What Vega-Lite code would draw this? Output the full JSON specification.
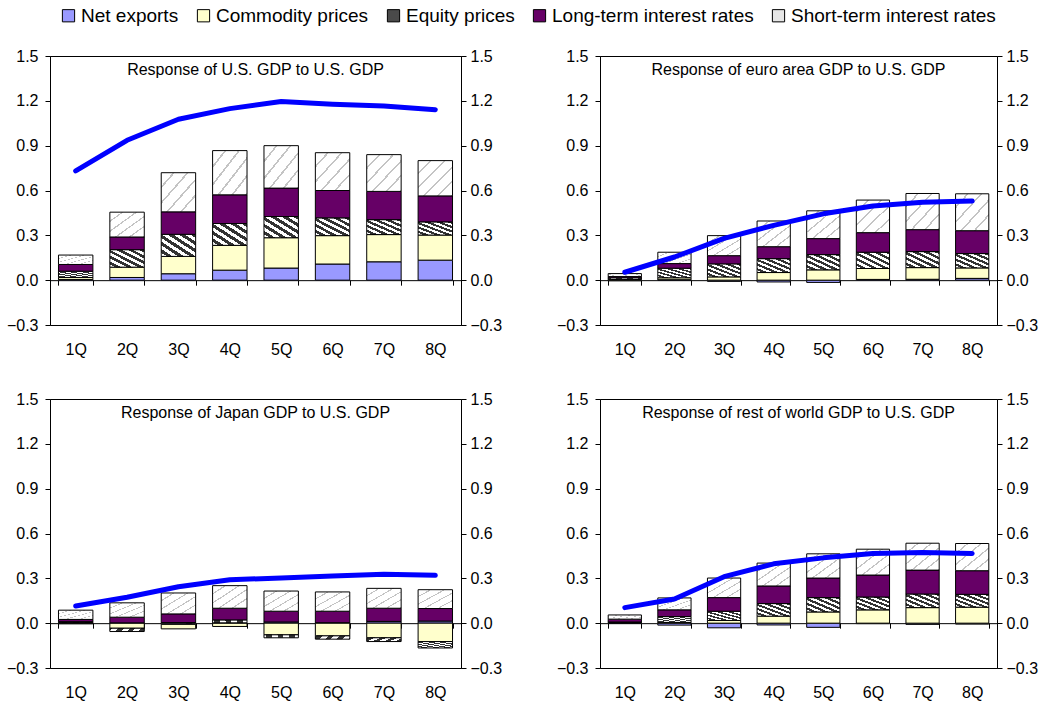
{
  "$schema": "https://vega.github.io/schema/vega-lite/v6.json",
  "padding": {"left": 5, "top": 6, "right": 8, "bottom": 6},
  "background": "white",
  "datasets": {
    "stackOrder": [
      {"component": "Net exports", "rank": 1},
      {"component": "Commodity prices", "rank": 2},
      {"component": "Equity prices", "rank": 3},
      {"component": "Long-term interest rates", "rank": 4},
      {"component": "Short-term interest rates", "rank": 5}
    ],
    "resp": [
      {"region": "us", "q": "1Q", "gdp": 0.731, "Net exports": 0.005, "Commodity prices": 0.013, "Equity prices": 0.042, "Long-term interest rates": 0.045, "Short-term interest rates": 0.063},
      {"region": "us", "q": "2Q", "gdp": 0.936, "Net exports": 0.018, "Commodity prices": 0.069, "Equity prices": 0.117, "Long-term interest rates": 0.085, "Short-term interest rates": 0.166},
      {"region": "us", "q": "3Q", "gdp": 1.077, "Net exports": 0.043, "Commodity prices": 0.116, "Equity prices": 0.148, "Long-term interest rates": 0.150, "Short-term interest rates": 0.262},
      {"region": "us", "q": "4Q", "gdp": 1.148, "Net exports": 0.067, "Commodity prices": 0.166, "Equity prices": 0.146, "Long-term interest rates": 0.192, "Short-term interest rates": 0.296},
      {"region": "us", "q": "5Q", "gdp": 1.195, "Net exports": 0.081, "Commodity prices": 0.203, "Equity prices": 0.142, "Long-term interest rates": 0.190, "Short-term interest rates": 0.284},
      {"region": "us", "q": "6Q", "gdp": 1.177, "Net exports": 0.108, "Commodity prices": 0.190, "Equity prices": 0.119, "Long-term interest rates": 0.183, "Short-term interest rates": 0.253},
      {"region": "us", "q": "7Q", "gdp": 1.166, "Net exports": 0.123, "Commodity prices": 0.182, "Equity prices": 0.100, "Long-term interest rates": 0.189, "Short-term interest rates": 0.246},
      {"region": "us", "q": "8Q", "gdp": 1.141, "Net exports": 0.134, "Commodity prices": 0.168, "Equity prices": 0.088, "Long-term interest rates": 0.174, "Short-term interest rates": 0.236},
      {"region": "ea", "q": "1Q", "gdp": 0.053, "Net exports": -0.004, "Commodity prices": 0.004, "Equity prices": 0.012, "Long-term interest rates": 0.008, "Short-term interest rates": 0.020},
      {"region": "ea", "q": "2Q", "gdp": 0.155, "Net exports": 0.003, "Commodity prices": 0.013, "Equity prices": 0.064, "Long-term interest rates": 0.031, "Short-term interest rates": 0.076},
      {"region": "ea", "q": "3Q", "gdp": 0.280, "Net exports": -0.008, "Commodity prices": 0.022, "Equity prices": 0.087, "Long-term interest rates": 0.055, "Short-term interest rates": 0.134},
      {"region": "ea", "q": "4Q", "gdp": 0.367, "Net exports": -0.012, "Commodity prices": 0.051, "Equity prices": 0.093, "Long-term interest rates": 0.080, "Short-term interest rates": 0.172},
      {"region": "ea", "q": "5Q", "gdp": 0.444, "Net exports": -0.015, "Commodity prices": 0.069, "Equity prices": 0.102, "Long-term interest rates": 0.107, "Short-term interest rates": 0.186},
      {"region": "ea", "q": "6Q", "gdp": 0.496, "Net exports": 0.005, "Commodity prices": 0.073, "Equity prices": 0.109, "Long-term interest rates": 0.131, "Short-term interest rates": 0.218},
      {"region": "ea", "q": "7Q", "gdp": 0.522, "Net exports": 0.006, "Commodity prices": 0.078, "Equity prices": 0.107, "Long-term interest rates": 0.147, "Short-term interest rates": 0.242},
      {"region": "ea", "q": "8Q", "gdp": 0.529, "Net exports": 0.012, "Commodity prices": 0.070, "Equity prices": 0.096, "Long-term interest rates": 0.153, "Short-term interest rates": 0.247},
      {"region": "jp", "q": "1Q", "gdp": 0.115, "Net exports": 0.004, "Commodity prices": -0.004, "Equity prices": 0.006, "Long-term interest rates": 0.015, "Short-term interest rates": 0.062},
      {"region": "jp", "q": "2Q", "gdp": 0.173, "Net exports": 0.002, "Commodity prices": -0.034, "Equity prices": -0.022, "Long-term interest rates": 0.038, "Short-term interest rates": 0.096},
      {"region": "jp", "q": "3Q", "gdp": 0.244, "Net exports": -0.008, "Commodity prices": -0.030, "Equity prices": 0.004, "Long-term interest rates": 0.058, "Short-term interest rates": 0.140},
      {"region": "jp", "q": "4Q", "gdp": 0.291, "Net exports": 0.002, "Commodity prices": -0.022, "Equity prices": 0.020, "Long-term interest rates": 0.078, "Short-term interest rates": 0.151},
      {"region": "jp", "q": "5Q", "gdp": 0.302, "Net exports": 0.008, "Commodity prices": -0.078, "Equity prices": -0.020, "Long-term interest rates": 0.072, "Short-term interest rates": 0.135},
      {"region": "jp", "q": "6Q", "gdp": 0.315, "Net exports": 0.003, "Commodity prices": -0.085, "Equity prices": -0.022, "Long-term interest rates": 0.077, "Short-term interest rates": 0.129},
      {"region": "jp", "q": "7Q", "gdp": 0.328, "Net exports": 0.012, "Commodity prices": -0.098, "Equity prices": -0.025, "Long-term interest rates": 0.088, "Short-term interest rates": 0.133},
      {"region": "jp", "q": "8Q", "gdp": 0.320, "Net exports": 0.014, "Commodity prices": -0.123, "Equity prices": -0.043, "Long-term interest rates": 0.084, "Short-term interest rates": 0.126},
      {"region": "row", "q": "1Q", "gdp": 0.104, "Net exports": 0.002, "Commodity prices": 0.002, "Equity prices": 0.004, "Long-term interest rates": 0.019, "Short-term interest rates": 0.028},
      {"region": "row", "q": "2Q", "gdp": 0.162, "Net exports": -0.013, "Commodity prices": 0.005, "Equity prices": 0.039, "Long-term interest rates": 0.045, "Short-term interest rates": 0.080},
      {"region": "row", "q": "3Q", "gdp": 0.311, "Net exports": -0.031, "Commodity prices": 0.018, "Equity prices": 0.062, "Long-term interest rates": 0.091, "Short-term interest rates": 0.131},
      {"region": "row", "q": "4Q", "gdp": 0.397, "Net exports": -0.012, "Commodity prices": 0.047, "Equity prices": 0.084, "Long-term interest rates": 0.118, "Short-term interest rates": 0.153},
      {"region": "row", "q": "5Q", "gdp": 0.437, "Net exports": -0.028, "Commodity prices": 0.075, "Equity prices": 0.096, "Long-term interest rates": 0.131, "Short-term interest rates": 0.162},
      {"region": "row", "q": "6Q", "gdp": 0.466, "Net exports": -0.003, "Commodity prices": 0.089, "Equity prices": 0.086, "Long-term interest rates": 0.147, "Short-term interest rates": 0.173},
      {"region": "row", "q": "7Q", "gdp": 0.473, "Net exports": -0.008, "Commodity prices": 0.104, "Equity prices": 0.091, "Long-term interest rates": 0.160, "Short-term interest rates": 0.180},
      {"region": "row", "q": "8Q", "gdp": 0.466, "Net exports": -0.006, "Commodity prices": 0.107, "Equity prices": 0.086, "Long-term interest rates": 0.158, "Short-term interest rates": 0.182}
    ]
  },
  "vconcat": [
    {
      "hconcat": [
        {
          "width": 411, "height": 269,
          "title": {"text": "Response of U.S. GDP to U.S. GDP"},
          "data": {"name": "resp"},
          "transform": [{"filter": "datum.region === 'us'"}],
          "layer": [
            {
              "mark": {"type": "bar", "stroke": "black", "strokeWidth": 1},
              "transform": [
                {"fold": ["Net exports", "Commodity prices", "Equity prices", "Long-term interest rates", "Short-term interest rates"], "as": ["component", "value"]},
                {"lookup": "component", "from": {"data": {"name": "stackOrder"}, "key": "component", "fields": ["rank"]}}
              ],
              "encoding": {
                "x": {"field": "q", "type": "ordinal", "scale": {"paddingInner": 0.33, "paddingOuter": 0.165}, "axis": {"title": null, "orient": "bottom", "labels": false, "tickBand": "extent", "offset": -44.83, "tickSize": 5, "domainColor": "black", "tickColor": "black"}},
                "y": {"field": "value", "type": "quantitative", "stack": "zero", "scale": {"domain": [-0.3, 1.5], "nice": false, "zero": false}, "axis": {"orient": "left", "values": [-0.3, 0, 0.3, 0.6, 0.9, 1.2, 1.5], "format": ".1f", "title": null, "labelPadding": 7}},
                "order": {"field": "rank", "type": "quantitative", "sort": "ascending"},
                "color": {
                  "field": "component", "type": "nominal",
                  "scale": {"domain": ["Net exports", "Commodity prices", "Equity prices", "Long-term interest rates", "Short-term interest rates"], "range": ["#9999ff", "#ffffcc", "#4a4a4a", "#660066", "#e6e6e6"]},
                  "condition": [
                    {"test": "datum.component === 'Equity prices'", "value": {"gradient": "linear", "x1": 0, "y1": 1, "x2": 1, "y2": 0, "stops": [{"offset": 0, "color": "#ffffff"}, {"offset": 0.0833, "color": "#ffffff"}, {"offset": 0.0833, "color": "#333333"}, {"offset": 0.1667, "color": "#333333"}, {"offset": 0.1667, "color": "#ffffff"}, {"offset": 0.25, "color": "#ffffff"}, {"offset": 0.25, "color": "#333333"}, {"offset": 0.3333, "color": "#333333"}, {"offset": 0.3333, "color": "#ffffff"}, {"offset": 0.4167, "color": "#ffffff"}, {"offset": 0.4167, "color": "#333333"}, {"offset": 0.5, "color": "#333333"}, {"offset": 0.5, "color": "#ffffff"}, {"offset": 0.5833, "color": "#ffffff"}, {"offset": 0.5833, "color": "#333333"}, {"offset": 0.6667, "color": "#333333"}, {"offset": 0.6667, "color": "#ffffff"}, {"offset": 0.75, "color": "#ffffff"}, {"offset": 0.75, "color": "#333333"}, {"offset": 0.8333, "color": "#333333"}, {"offset": 0.8333, "color": "#ffffff"}, {"offset": 0.9167, "color": "#ffffff"}, {"offset": 0.9167, "color": "#333333"}, {"offset": 1, "color": "#333333"}]}},
                    {"test": "datum.component === 'Short-term interest rates'", "value": {"gradient": "linear", "x1": 0, "y1": 0, "x2": 1, "y2": 1, "stops": [{"offset": 0, "color": "#ffffff"}, {"offset": 0.17, "color": "#ffffff"}, {"offset": 0.17, "color": "#c4c4c4"}, {"offset": 0.2, "color": "#c4c4c4"}, {"offset": 0.2, "color": "#ffffff"}, {"offset": 0.37, "color": "#ffffff"}, {"offset": 0.37, "color": "#c4c4c4"}, {"offset": 0.4, "color": "#c4c4c4"}, {"offset": 0.4, "color": "#ffffff"}, {"offset": 0.57, "color": "#ffffff"}, {"offset": 0.57, "color": "#c4c4c4"}, {"offset": 0.6, "color": "#c4c4c4"}, {"offset": 0.6, "color": "#ffffff"}, {"offset": 0.77, "color": "#ffffff"}, {"offset": 0.77, "color": "#c4c4c4"}, {"offset": 0.8, "color": "#c4c4c4"}, {"offset": 0.8, "color": "#ffffff"}, {"offset": 0.97, "color": "#ffffff"}, {"offset": 0.97, "color": "#c4c4c4"}, {"offset": 1, "color": "#c4c4c4"}]}}
                  ],
                  "legend": {"title": null}
                }
              }
            },
            {
              "mark": {"type": "line", "color": "#0000ff", "strokeWidth": 5, "strokeCap": "round", "strokeJoin": "round"},
              "encoding": {
                "x": {"field": "q", "type": "ordinal", "scale": {"type": "point", "padding": 0.5}, "axis": {"title": null, "orient": "bottom", "labelAngle": 0, "domain": false, "ticks": false, "labelPadding": 16}},
                "y": {"field": "gdp", "type": "quantitative", "scale": {"domain": [-0.3, 1.5], "nice": false, "zero": false}, "axis": {"orient": "right", "values": [-0.3, 0, 0.3, 0.6, 0.9, 1.2, 1.5], "format": ".1f", "title": null}}
              }
            }
          ],
          "resolve": {"scale": {"x": "independent", "y": "independent"}}
        },
        {
          "width": 397, "height": 269,
          "title": {"text": "Response of euro area GDP to U.S. GDP"},
          "data": {"name": "resp"},
          "transform": [{"filter": "datum.region === 'ea'"}],
          "layer": [
            {
              "mark": {"type": "bar", "stroke": "black", "strokeWidth": 1},
              "transform": [
                {"fold": ["Net exports", "Commodity prices", "Equity prices", "Long-term interest rates", "Short-term interest rates"], "as": ["component", "value"]},
                {"lookup": "component", "from": {"data": {"name": "stackOrder"}, "key": "component", "fields": ["rank"]}}
              ],
              "encoding": {
                "x": {"field": "q", "type": "ordinal", "scale": {"paddingInner": 0.33, "paddingOuter": 0.165}, "axis": {"title": null, "orient": "bottom", "labels": false, "tickBand": "extent", "offset": -44.83, "tickSize": 5, "domainColor": "black", "tickColor": "black"}},
                "y": {"field": "value", "type": "quantitative", "stack": "zero", "scale": {"domain": [-0.3, 1.5], "nice": false, "zero": false}, "axis": {"orient": "left", "values": [-0.3, 0, 0.3, 0.6, 0.9, 1.2, 1.5], "format": ".1f", "title": null, "labelPadding": 7}},
                "order": {"field": "rank", "type": "quantitative", "sort": "ascending"},
                "color": {
                  "field": "component", "type": "nominal",
                  "scale": {"domain": ["Net exports", "Commodity prices", "Equity prices", "Long-term interest rates", "Short-term interest rates"], "range": ["#9999ff", "#ffffcc", "#4a4a4a", "#660066", "#e6e6e6"]},
                  "condition": [
                    {"test": "datum.component === 'Equity prices'", "value": {"gradient": "linear", "x1": 0, "y1": 1, "x2": 1, "y2": 0, "stops": [{"offset": 0, "color": "#ffffff"}, {"offset": 0.0833, "color": "#ffffff"}, {"offset": 0.0833, "color": "#333333"}, {"offset": 0.1667, "color": "#333333"}, {"offset": 0.1667, "color": "#ffffff"}, {"offset": 0.25, "color": "#ffffff"}, {"offset": 0.25, "color": "#333333"}, {"offset": 0.3333, "color": "#333333"}, {"offset": 0.3333, "color": "#ffffff"}, {"offset": 0.4167, "color": "#ffffff"}, {"offset": 0.4167, "color": "#333333"}, {"offset": 0.5, "color": "#333333"}, {"offset": 0.5, "color": "#ffffff"}, {"offset": 0.5833, "color": "#ffffff"}, {"offset": 0.5833, "color": "#333333"}, {"offset": 0.6667, "color": "#333333"}, {"offset": 0.6667, "color": "#ffffff"}, {"offset": 0.75, "color": "#ffffff"}, {"offset": 0.75, "color": "#333333"}, {"offset": 0.8333, "color": "#333333"}, {"offset": 0.8333, "color": "#ffffff"}, {"offset": 0.9167, "color": "#ffffff"}, {"offset": 0.9167, "color": "#333333"}, {"offset": 1, "color": "#333333"}]}},
                    {"test": "datum.component === 'Short-term interest rates'", "value": {"gradient": "linear", "x1": 0, "y1": 0, "x2": 1, "y2": 1, "stops": [{"offset": 0, "color": "#ffffff"}, {"offset": 0.17, "color": "#ffffff"}, {"offset": 0.17, "color": "#c4c4c4"}, {"offset": 0.2, "color": "#c4c4c4"}, {"offset": 0.2, "color": "#ffffff"}, {"offset": 0.37, "color": "#ffffff"}, {"offset": 0.37, "color": "#c4c4c4"}, {"offset": 0.4, "color": "#c4c4c4"}, {"offset": 0.4, "color": "#ffffff"}, {"offset": 0.57, "color": "#ffffff"}, {"offset": 0.57, "color": "#c4c4c4"}, {"offset": 0.6, "color": "#c4c4c4"}, {"offset": 0.6, "color": "#ffffff"}, {"offset": 0.77, "color": "#ffffff"}, {"offset": 0.77, "color": "#c4c4c4"}, {"offset": 0.8, "color": "#c4c4c4"}, {"offset": 0.8, "color": "#ffffff"}, {"offset": 0.97, "color": "#ffffff"}, {"offset": 0.97, "color": "#c4c4c4"}, {"offset": 1, "color": "#c4c4c4"}]}}
                  ],
                  "legend": {"title": null}
                }
              }
            },
            {
              "mark": {"type": "line", "color": "#0000ff", "strokeWidth": 5, "strokeCap": "round", "strokeJoin": "round"},
              "encoding": {
                "x": {"field": "q", "type": "ordinal", "scale": {"type": "point", "padding": 0.5}, "axis": {"title": null, "orient": "bottom", "labelAngle": 0, "domain": false, "ticks": false, "labelPadding": 16}},
                "y": {"field": "gdp", "type": "quantitative", "scale": {"domain": [-0.3, 1.5], "nice": false, "zero": false}, "axis": {"orient": "right", "values": [-0.3, 0, 0.3, 0.6, 0.9, 1.2, 1.5], "format": ".1f", "title": null}}
              }
            }
          ],
          "resolve": {"scale": {"x": "independent", "y": "independent"}}
        }
      ],
      "spacing": 139,
      "bounds": "flush"
    },
    {
      "hconcat": [
        {
          "width": 411, "height": 269,
          "title": {"text": "Response of Japan GDP to U.S. GDP"},
          "data": {"name": "resp"},
          "transform": [{"filter": "datum.region === 'jp'"}],
          "layer": [
            {
              "mark": {"type": "bar", "stroke": "black", "strokeWidth": 1},
              "transform": [
                {"fold": ["Net exports", "Commodity prices", "Equity prices", "Long-term interest rates", "Short-term interest rates"], "as": ["component", "value"]},
                {"lookup": "component", "from": {"data": {"name": "stackOrder"}, "key": "component", "fields": ["rank"]}}
              ],
              "encoding": {
                "x": {"field": "q", "type": "ordinal", "scale": {"paddingInner": 0.33, "paddingOuter": 0.165}, "axis": {"title": null, "orient": "bottom", "labels": false, "tickBand": "extent", "offset": -44.83, "tickSize": 5, "domainColor": "black", "tickColor": "black"}},
                "y": {"field": "value", "type": "quantitative", "stack": "zero", "scale": {"domain": [-0.3, 1.5], "nice": false, "zero": false}, "axis": {"orient": "left", "values": [-0.3, 0, 0.3, 0.6, 0.9, 1.2, 1.5], "format": ".1f", "title": null, "labelPadding": 7}},
                "order": {"field": "rank", "type": "quantitative", "sort": "ascending"},
                "color": {
                  "field": "component", "type": "nominal",
                  "scale": {"domain": ["Net exports", "Commodity prices", "Equity prices", "Long-term interest rates", "Short-term interest rates"], "range": ["#9999ff", "#ffffcc", "#4a4a4a", "#660066", "#e6e6e6"]},
                  "condition": [
                    {"test": "datum.component === 'Equity prices'", "value": {"gradient": "linear", "x1": 0, "y1": 1, "x2": 1, "y2": 0, "stops": [{"offset": 0, "color": "#ffffff"}, {"offset": 0.0833, "color": "#ffffff"}, {"offset": 0.0833, "color": "#333333"}, {"offset": 0.1667, "color": "#333333"}, {"offset": 0.1667, "color": "#ffffff"}, {"offset": 0.25, "color": "#ffffff"}, {"offset": 0.25, "color": "#333333"}, {"offset": 0.3333, "color": "#333333"}, {"offset": 0.3333, "color": "#ffffff"}, {"offset": 0.4167, "color": "#ffffff"}, {"offset": 0.4167, "color": "#333333"}, {"offset": 0.5, "color": "#333333"}, {"offset": 0.5, "color": "#ffffff"}, {"offset": 0.5833, "color": "#ffffff"}, {"offset": 0.5833, "color": "#333333"}, {"offset": 0.6667, "color": "#333333"}, {"offset": 0.6667, "color": "#ffffff"}, {"offset": 0.75, "color": "#ffffff"}, {"offset": 0.75, "color": "#333333"}, {"offset": 0.8333, "color": "#333333"}, {"offset": 0.8333, "color": "#ffffff"}, {"offset": 0.9167, "color": "#ffffff"}, {"offset": 0.9167, "color": "#333333"}, {"offset": 1, "color": "#333333"}]}},
                    {"test": "datum.component === 'Short-term interest rates'", "value": {"gradient": "linear", "x1": 0, "y1": 0, "x2": 1, "y2": 1, "stops": [{"offset": 0, "color": "#ffffff"}, {"offset": 0.17, "color": "#ffffff"}, {"offset": 0.17, "color": "#c4c4c4"}, {"offset": 0.2, "color": "#c4c4c4"}, {"offset": 0.2, "color": "#ffffff"}, {"offset": 0.37, "color": "#ffffff"}, {"offset": 0.37, "color": "#c4c4c4"}, {"offset": 0.4, "color": "#c4c4c4"}, {"offset": 0.4, "color": "#ffffff"}, {"offset": 0.57, "color": "#ffffff"}, {"offset": 0.57, "color": "#c4c4c4"}, {"offset": 0.6, "color": "#c4c4c4"}, {"offset": 0.6, "color": "#ffffff"}, {"offset": 0.77, "color": "#ffffff"}, {"offset": 0.77, "color": "#c4c4c4"}, {"offset": 0.8, "color": "#c4c4c4"}, {"offset": 0.8, "color": "#ffffff"}, {"offset": 0.97, "color": "#ffffff"}, {"offset": 0.97, "color": "#c4c4c4"}, {"offset": 1, "color": "#c4c4c4"}]}}
                  ],
                  "legend": {"title": null}
                }
              }
            },
            {
              "mark": {"type": "line", "color": "#0000ff", "strokeWidth": 5, "strokeCap": "round", "strokeJoin": "round"},
              "encoding": {
                "x": {"field": "q", "type": "ordinal", "scale": {"type": "point", "padding": 0.5}, "axis": {"title": null, "orient": "bottom", "labelAngle": 0, "domain": false, "ticks": false, "labelPadding": 16}},
                "y": {"field": "gdp", "type": "quantitative", "scale": {"domain": [-0.3, 1.5], "nice": false, "zero": false}, "axis": {"orient": "right", "values": [-0.3, 0, 0.3, 0.6, 0.9, 1.2, 1.5], "format": ".1f", "title": null}}
              }
            }
          ],
          "resolve": {"scale": {"x": "independent", "y": "independent"}}
        },
        {
          "width": 397, "height": 269,
          "title": {"text": "Response of rest of world GDP to U.S. GDP"},
          "data": {"name": "resp"},
          "transform": [{"filter": "datum.region === 'row'"}],
          "layer": [
            {
              "mark": {"type": "bar", "stroke": "black", "strokeWidth": 1},
              "transform": [
                {"fold": ["Net exports", "Commodity prices", "Equity prices", "Long-term interest rates", "Short-term interest rates"], "as": ["component", "value"]},
                {"lookup": "component", "from": {"data": {"name": "stackOrder"}, "key": "component", "fields": ["rank"]}}
              ],
              "encoding": {
                "x": {"field": "q", "type": "ordinal", "scale": {"paddingInner": 0.33, "paddingOuter": 0.165}, "axis": {"title": null, "orient": "bottom", "labels": false, "tickBand": "extent", "offset": -44.83, "tickSize": 5, "domainColor": "black", "tickColor": "black"}},
                "y": {"field": "value", "type": "quantitative", "stack": "zero", "scale": {"domain": [-0.3, 1.5], "nice": false, "zero": false}, "axis": {"orient": "left", "values": [-0.3, 0, 0.3, 0.6, 0.9, 1.2, 1.5], "format": ".1f", "title": null, "labelPadding": 7}},
                "order": {"field": "rank", "type": "quantitative", "sort": "ascending"},
                "color": {
                  "field": "component", "type": "nominal",
                  "scale": {"domain": ["Net exports", "Commodity prices", "Equity prices", "Long-term interest rates", "Short-term interest rates"], "range": ["#9999ff", "#ffffcc", "#4a4a4a", "#660066", "#e6e6e6"]},
                  "condition": [
                    {"test": "datum.component === 'Equity prices'", "value": {"gradient": "linear", "x1": 0, "y1": 1, "x2": 1, "y2": 0, "stops": [{"offset": 0, "color": "#ffffff"}, {"offset": 0.0833, "color": "#ffffff"}, {"offset": 0.0833, "color": "#333333"}, {"offset": 0.1667, "color": "#333333"}, {"offset": 0.1667, "color": "#ffffff"}, {"offset": 0.25, "color": "#ffffff"}, {"offset": 0.25, "color": "#333333"}, {"offset": 0.3333, "color": "#333333"}, {"offset": 0.3333, "color": "#ffffff"}, {"offset": 0.4167, "color": "#ffffff"}, {"offset": 0.4167, "color": "#333333"}, {"offset": 0.5, "color": "#333333"}, {"offset": 0.5, "color": "#ffffff"}, {"offset": 0.5833, "color": "#ffffff"}, {"offset": 0.5833, "color": "#333333"}, {"offset": 0.6667, "color": "#333333"}, {"offset": 0.6667, "color": "#ffffff"}, {"offset": 0.75, "color": "#ffffff"}, {"offset": 0.75, "color": "#333333"}, {"offset": 0.8333, "color": "#333333"}, {"offset": 0.8333, "color": "#ffffff"}, {"offset": 0.9167, "color": "#ffffff"}, {"offset": 0.9167, "color": "#333333"}, {"offset": 1, "color": "#333333"}]}},
                    {"test": "datum.component === 'Short-term interest rates'", "value": {"gradient": "linear", "x1": 0, "y1": 0, "x2": 1, "y2": 1, "stops": [{"offset": 0, "color": "#ffffff"}, {"offset": 0.17, "color": "#ffffff"}, {"offset": 0.17, "color": "#c4c4c4"}, {"offset": 0.2, "color": "#c4c4c4"}, {"offset": 0.2, "color": "#ffffff"}, {"offset": 0.37, "color": "#ffffff"}, {"offset": 0.37, "color": "#c4c4c4"}, {"offset": 0.4, "color": "#c4c4c4"}, {"offset": 0.4, "color": "#ffffff"}, {"offset": 0.57, "color": "#ffffff"}, {"offset": 0.57, "color": "#c4c4c4"}, {"offset": 0.6, "color": "#c4c4c4"}, {"offset": 0.6, "color": "#ffffff"}, {"offset": 0.77, "color": "#ffffff"}, {"offset": 0.77, "color": "#c4c4c4"}, {"offset": 0.8, "color": "#c4c4c4"}, {"offset": 0.8, "color": "#ffffff"}, {"offset": 0.97, "color": "#ffffff"}, {"offset": 0.97, "color": "#c4c4c4"}, {"offset": 1, "color": "#c4c4c4"}]}}
                  ],
                  "legend": {"title": null}
                }
              }
            },
            {
              "mark": {"type": "line", "color": "#0000ff", "strokeWidth": 5, "strokeCap": "round", "strokeJoin": "round"},
              "encoding": {
                "x": {"field": "q", "type": "ordinal", "scale": {"type": "point", "padding": 0.5}, "axis": {"title": null, "orient": "bottom", "labelAngle": 0, "domain": false, "ticks": false, "labelPadding": 16}},
                "y": {"field": "gdp", "type": "quantitative", "scale": {"domain": [-0.3, 1.5], "nice": false, "zero": false}, "axis": {"orient": "right", "values": [-0.3, 0, 0.3, 0.6, 0.9, 1.2, 1.5], "format": ".1f", "title": null}}
              }
            }
          ],
          "resolve": {"scale": {"x": "independent", "y": "independent"}}
        }
      ],
      "spacing": 139,
      "bounds": "flush"
    }
  ],
  "spacing": 32,
  "config": {
    "font": "Liberation Sans",
    "view": {"stroke": "black", "strokeWidth": 1},
    "title": {"font": "Liberation Sans", "fontSize": 16, "fontWeight": "normal", "color": "black", "anchor": "middle", "baseline": "alphabetic", "offset": -30},
    "axis": {"grid": false, "labelFont": "Liberation Sans", "labelFontSize": 16, "labelColor": "black", "domainColor": "black", "tickColor": "black", "labelLimit": 0},
    "axisY": {"tickSize": 5, "labelPadding": 4},
    "legend": {"orient": "none", "legendX": 9, "legendY": -50, "direction": "horizontal", "labelFont": "Liberation Sans", "labelFontSize": 19, "labelColor": "black", "symbolType": "square", "symbolSize": 150, "symbolStrokeColor": "black", "symbolStrokeWidth": 1, "symbolOpacity": 1, "columnPadding": 15, "labelOffset": 3, "labelLimit": 0}
  }
}
